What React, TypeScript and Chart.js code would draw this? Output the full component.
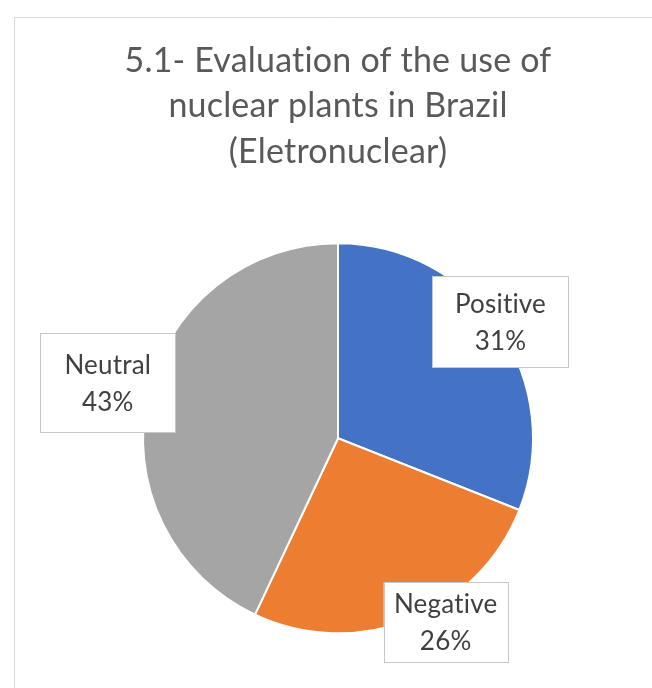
import React, { useEffect, useRef } from "react";
import { Chart, registerables } from "chart.js";

Chart.register(...registerables);

// Survey answers on the use of nuclear plants in Brazil
const categories = ["Positive", "Negative", "Neutral"];
const shares = [31, 26, 43];
const sliceColors = ["#4472C4", "#ED7D31", "#A5A5A5"];
const titleLines = ["5.1- Evaluation of the use of", "nuclear plants in Brazil", "(Eletronuclear)"];

// Data label placement: distance along the slice middle (times the radius), a small nudge, and the box size
const labelPlacement = [
  { r: 1.026, dx: -3, dy: -4, w: 136, h: 91 },
  { r: 1.026, dx: 34, dy: -2, w: 124, h: 80 },
  { r: 1.21, dx: 0, dy: -4, w: 135, h: 99 },
];

const FONT = "Lato, 'Open Sans', sans-serif";

const framePlugin = {
  id: "chartFrame",
  beforeDraw(chart: any) {
    const { ctx, width, height } = chart;
    ctx.save();
    ctx.fillStyle = "#ffffff";
    ctx.fillRect(0, 0, width, height);
    ctx.strokeStyle = "#d9d9d9";
    ctx.lineWidth = 1;
    ctx.beginPath();
    ctx.moveTo(14.5, height + 2);
    ctx.lineTo(14.5, 17.5);
    ctx.lineTo(width + 2, 17.5);
    ctx.stroke();
    ctx.restore();
    // a hair of letter spacing keeps "ti" from being drawn as a ligature
    ctx.letterSpacing = "0.2px";
  },
};

const dataLabelPlugin = {
  id: "boxedDataLabels",
  afterDatasetsDraw(chart: any) {
    const { ctx } = chart;
    const meta = chart.getDatasetMeta(0);
    const values: number[] = chart.data.datasets[0].data;
    const total = values.reduce((a, b) => a + b, 0);
    meta.data.forEach((arc: any, i: number) => {
      const { x, y, startAngle, endAngle, outerRadius } = arc.getProps(
        ["x", "y", "startAngle", "endAngle", "outerRadius"],
        true
      );
      const p = labelPlacement[i];
      const mid = (startAngle + endAngle) / 2;
      const cx = x + Math.cos(mid) * outerRadius * p.r + p.dx;
      const cy = y + Math.sin(mid) * outerRadius * p.r + p.dy;
      ctx.save();
      ctx.fillStyle = "#ffffff";
      ctx.fillRect(cx - p.w / 2, cy - p.h / 2, p.w, p.h);
      ctx.strokeStyle = "#c8c8c8";
      ctx.lineWidth = 1;
      ctx.strokeRect(Math.round(cx - p.w / 2) + 0.5, Math.round(cy - p.h / 2) + 0.5, p.w, p.h);
      ctx.fillStyle = "#404040";
      ctx.font = `26px ${FONT}`;
      ctx.textAlign = "center";
      ctx.textBaseline = "alphabetic";
      const pct = Math.round((values[i] / total) * 100) + "%";
      ctx.fillText(chart.data.labels[i], cx, cy - 9);
      ctx.fillText(pct, cx, cy + 28);
      ctx.restore();
    });
  },
};

export default function App() {
  const canvasRef = useRef<HTMLCanvasElement | null>(null);

  useEffect(() => {
    if (!canvasRef.current) return;
    const chart = new Chart(canvasRef.current, {
      type: "pie",
      data: {
        labels: categories,
        datasets: [
          {
            data: shares,
            backgroundColor: sliceColors,
            borderColor: "#ffffff",
            borderWidth: 2,
          },
        ],
      },
      options: {
        responsive: false,
        animation: false,
        devicePixelRatio: 1,
        radius: 195,
        layout: { padding: { left: 24, right: 0, top: 17, bottom: 10 } },
        plugins: {
          legend: { display: false },
          tooltip: { enabled: false },
          title: {
            display: true,
            text: titleLines,
            color: "#595959",
            font: { family: FONT, size: 34, weight: "normal", lineHeight: 45.5 / 34 },
            padding: { top: 21, bottom: 24 },
          },
        },
      } as any,
      plugins: [framePlugin, dataLabelPlugin],
    });
    return () => chart.destroy();
  }, []);

  return (
    <div style={{ position: "absolute", left: 0, top: 0, width: 652, height: 688, background: "#fff" }}>
      <canvas ref={canvasRef} width={652} height={688} />
    </div>
  );
}
